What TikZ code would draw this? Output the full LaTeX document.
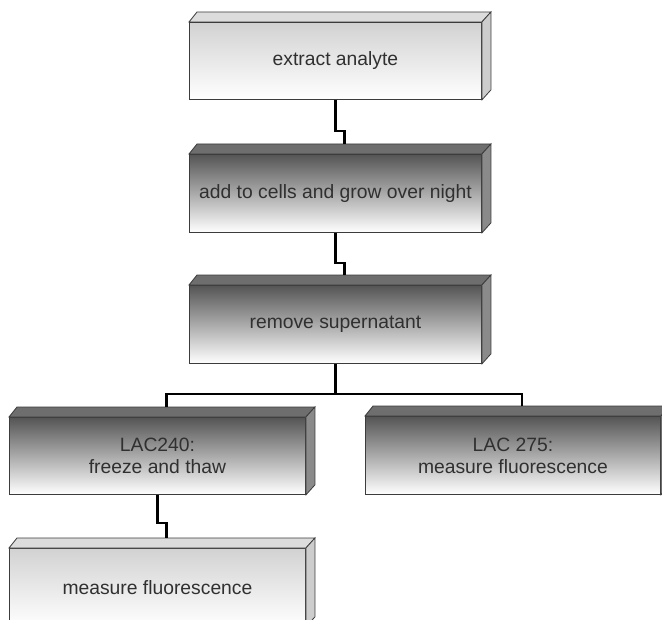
\documentclass[tikz,border=0pt]{standalone}
\usepackage{fontspec}
\setmainfont{Liberation Sans}
\definecolor{edgegray}{HTML}{3C3C3C}
\definecolor{textgray}{HTML}{303030}
\definecolor{lighttop}{HTML}{D2D2D2}
\definecolor{lightface}{HTML}{DCDCDC}
\definecolor{lightside}{HTML}{CDCDCD}
\definecolor{darktop}{HTML}{555555}
\definecolor{darkface}{HTML}{6E6E6E}
\definecolor{darkside}{HTML}{8A8A8A}
\tikzset{
    stage/.style={draw=edgegray, line width=0.9bp, anchor=north west, inner sep=0pt,
        minimum width=292bp, minimum height=78bp, align=center, text=textgray,
        font=\fontsize{19.3bp}{22bp}\selectfont},
    lightstage/.style={stage, top color=lighttop, bottom color=white},
    darkstage/.style={stage, top color=darktop, bottom color=white},
    link/.style={line width=2.6bp, black, line join=miter}
}
% top and side faces of a stage box
\newcommand{\boxdepth}[3]{
    \filldraw[fill=#2, draw=edgegray, line width=0.8bp] (#1.north west) -- ([shift={(8,-10)}]#1.north west)
        -- ([shift={(9,-10)}]#1.north east) -- (#1.north east) -- cycle;
    \filldraw[fill=#3, draw=edgegray, line width=0.8bp] (#1.north east) -- ([shift={(9,-10)}]#1.north east)
        -- ([shift={(9,-10)}]#1.south east) -- (#1.south east) -- cycle;
}
\begin{document}
\begin{tikzpicture}[x=1bp, y=-1bp]
    \useasboundingbox (0,0) rectangle (662,620);
    \clip (0,0) rectangle (662,620);

    \node[lightstage, minimum height=77bp] (extract) at (189,22) {extract analyte};
    \boxdepth{extract}{lightface}{lightside}
    \node[darkstage] (grow) at (189,154) {add to cells and grow over night};
    \boxdepth{grow}{darkface}{darkside}
    \node[darkstage] (remove) at (189,285) {remove supernatant};
    \boxdepth{remove}{darkface}{darkside}
    \node[darkstage, minimum width=296bp, minimum height=77bp] (freeze) at (9,417) {LAC240:\\freeze and thaw};
    \boxdepth{freeze}{darkface}{darkside}
    \node[darkstage, minimum width=295bp] (lacmeasure) at (365,416) {LAC 275:\\measure fluorescence};
    \boxdepth{lacmeasure}{darkface}{darkside}
    \node[lightstage, minimum width=296bp] (measure) at (9,548) {measure fluorescence};
    \boxdepth{measure}{lightface}{lightside}

    \coordinate (fork) at ([shift={(0,30)}]remove.south);
    \draw[link] (extract.south) -- ++(0,31) -| ([shift={(9,-10)}]grow.north);
    \draw[link] (grow.south) -- ++(0,30) -| ([shift={(9,-10)}]remove.north);
    \draw[link] (remove.south) -- (fork);
    \draw[link] (fork) -| ([shift={(9,-10)}]freeze.north);
    \draw[link] (fork) -| ([shift={(9,-10)}]lacmeasure.north);
    \draw[link] (freeze.south) -- ++(0,28) -| ([shift={(9,-10)}]measure.north);
\end{tikzpicture}
\end{document}
